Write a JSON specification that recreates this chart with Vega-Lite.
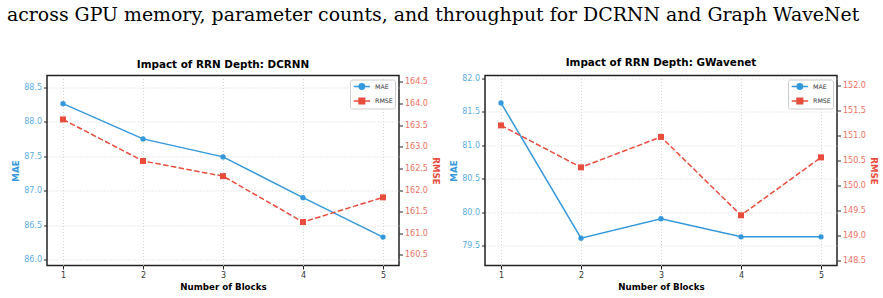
{
  "$schema": "https://vega.github.io/schema/vega-lite/v6.json",
  "padding": {"left": 6, "top": 5.5, "right": 4, "bottom": 2},
  "background": "white",
  "title": {
    "text": "across GPU memory, parameter counts, and throughput for DCRNN and Graph WaveNet",
    "anchor": "start",
    "frame": "bounds",
    "font": "DejaVu Serif",
    "fontSize": 18.9,
    "fontWeight": "normal",
    "color": "#000000",
    "offset": 33,
    "dx": -4
  },
  "datasets": {
    "rows": [
      {"model": "DCRNN", "blocks": 1, "MAE": 88.26, "RMSE": 163.63},
      {"model": "DCRNN", "blocks": 2, "MAE": 87.75, "RMSE": 162.67},
      {"model": "DCRNN", "blocks": 3, "MAE": 87.49, "RMSE": 162.32},
      {"model": "DCRNN", "blocks": 4, "MAE": 86.90, "RMSE": 161.26},
      {"model": "DCRNN", "blocks": 5, "MAE": 86.33, "RMSE": 161.83},
      {"model": "GWavenet", "blocks": 1, "MAE": 81.63, "RMSE": 151.20},
      {"model": "GWavenet", "blocks": 2, "MAE": 79.61, "RMSE": 150.36},
      {"model": "GWavenet", "blocks": 3, "MAE": 79.90, "RMSE": 150.97},
      {"model": "GWavenet", "blocks": 4, "MAE": 79.63, "RMSE": 149.40},
      {"model": "GWavenet", "blocks": 5, "MAE": 79.63, "RMSE": 150.56}
    ]
  },
  "data": {"name": "rows"},
  "spacing": 86,
  "bounds": "flush",
  "resolve": {"scale": {"color": "independent"}, "legend": {"color": "independent"}},
  "hconcat": [
    {
      "title": "Impact of RRN Depth: DCRNN",
      "width": 352,
      "height": 190,
      "transform": [{"filter": "datum.model === 'DCRNN'"}],
      "encoding": {
        "x": {
          "field": "blocks", "type": "quantitative",
          "scale": {"domain": [0.8, 5.2], "nice": false, "zero": false},
          "axis": {"values": [1, 2, 3, 4, 5], "format": "d", "title": "Number of Blocks"}
        }
      },
      "layer": [
        {
          "encoding": {
            "y": {
              "field": "MAE", "type": "quantitative",
              "scale": {"domain": [85.919, 88.667], "nice": false, "zero": false},
              "axis": {"orient": "left", "values": [86, 86.5, 87, 87.5, 88, 88.5], "format": ".1f", "title": "MAE",
                       "labelColor": "#5dade2", "titleColor": "#3498db", "grid": true}
            }
          },
          "layer": [
            {
              "mark": {"type": "line", "strokeWidth": 1.5},
              "encoding": {
                "color": {
                  "datum": "MAE",
                  "scale": {"domain": ["MAE", "RMSE"], "range": ["#3498db", "#e74c3c"]},
                  "legend": {
                    "title": null, "orient": "top-right", "offset": 4,
                    "fillColor": "white", "strokeColor": "#cccccc", "cornerRadius": 2, "padding": 1.5,
                    "labelFontSize": 6.3, "labelColor": "#333333", "labelFont": "DejaVu Sans",
                    "labelExpr": "datum.label + '\u2003'",
                    "symbolSize": 81, "rowPadding": 1.5, "labelOffset": 12.5,
                    "encode": {
                      "symbols": {
                        "update": {
                          "shape": {"signal": "datum.value === 'MAE' ? 'M-0.73,0H2.9M1.68,0A0.6,0.6,0,1,1,0.48,0A0.6,0.6,0,1,1,1.68,0Z' : 'M-0.73,0H0.5M0.95,0H1.25M1.7,0H2.9M0.45,-0.62H1.7V0.62H0.45Z'"},
                          "fill": {"signal": "datum.value === 'MAE' ? '#3498db' : '#e74c3c'"},
                          "stroke": {"signal": "datum.value === 'MAE' ? '#3498db' : '#e74c3c'"},
                          "strokeWidth": {"value": 1.5},
                          "strokeDash": {"value": []},
                          "opacity": {"value": 1},
                          "fillOpacity": {"value": 1}
                        }
                      }
                    }
                  }
                }
              }
            },
            {
              "mark": {"type": "point", "shape": "circle", "filled": true, "size": 28, "opacity": 1, "color": "#3498db"}
            }
          ]
        },
        {
          "encoding": {
            "y": {
              "field": "RMSE", "type": "quantitative",
              "scale": {"domain": [160.256, 164.645], "nice": false, "zero": false},
              "axis": {"orient": "right", "values": [160.5, 161, 161.5, 162, 162.5, 163, 163.5, 164, 164.5], "format": ".1f", "title": "RMSE",
                       "labelColor": "#ec7063", "titleColor": "#e74c3c", "grid": false}
            }
          },
          "layer": [
            {
              "mark": {"type": "line", "strokeWidth": 1.5, "strokeDash": [5.5, 2.4]},
              "encoding": {"color": {"datum": "RMSE"}}
            },
            {
              "mark": {"type": "point", "shape": "square", "filled": true, "size": 36, "opacity": 1, "color": "#e74c3c"}
            }
          ]
        }
      ],
      "resolve": {"scale": {"y": "independent"}}
    },
    {
      "title": "Impact of RRN Depth: GWavenet",
      "width": 352,
      "height": 190,
      "transform": [{"filter": "datum.model === 'GWavenet'"}],
      "encoding": {
        "x": {
          "field": "blocks", "type": "quantitative",
          "scale": {"domain": [0.8, 5.2], "nice": false, "zero": false},
          "axis": {"values": [1, 2, 3, 4, 5], "format": "d", "title": "Number of Blocks"}
        }
      },
      "layer": [
        {
          "encoding": {
            "y": {
              "field": "MAE", "type": "quantitative",
              "scale": {"domain": [79.202, 82.039], "nice": false, "zero": false},
              "axis": {"orient": "left", "values": [79.5, 80, 80.5, 81, 81.5, 82], "format": ".1f", "title": "MAE",
                       "labelColor": "#5dade2", "titleColor": "#3498db", "grid": true}
            }
          },
          "layer": [
            {
              "mark": {"type": "line", "strokeWidth": 1.5},
              "encoding": {
                "color": {
                  "datum": "MAE",
                  "scale": {"domain": ["MAE", "RMSE"], "range": ["#3498db", "#e74c3c"]},
                  "legend": {
                    "title": null, "orient": "top-right", "offset": 4,
                    "fillColor": "white", "strokeColor": "#cccccc", "cornerRadius": 2, "padding": 1.5,
                    "labelFontSize": 6.3, "labelColor": "#333333", "labelFont": "DejaVu Sans",
                    "labelExpr": "datum.label + '\u2003'",
                    "symbolSize": 81, "rowPadding": 1.5, "labelOffset": 12.5,
                    "encode": {
                      "symbols": {
                        "update": {
                          "shape": {"signal": "datum.value === 'MAE' ? 'M-0.73,0H2.9M1.68,0A0.6,0.6,0,1,1,0.48,0A0.6,0.6,0,1,1,1.68,0Z' : 'M-0.73,0H0.5M0.95,0H1.25M1.7,0H2.9M0.45,-0.62H1.7V0.62H0.45Z'"},
                          "fill": {"signal": "datum.value === 'MAE' ? '#3498db' : '#e74c3c'"},
                          "stroke": {"signal": "datum.value === 'MAE' ? '#3498db' : '#e74c3c'"},
                          "strokeWidth": {"value": 1.5},
                          "strokeDash": {"value": []},
                          "opacity": {"value": 1},
                          "fillOpacity": {"value": 1}
                        }
                      }
                    }
                  }
                }
              }
            },
            {
              "mark": {"type": "point", "shape": "circle", "filled": true, "size": 28, "opacity": 1, "color": "#3498db"}
            }
          ]
        },
        {
          "encoding": {
            "y": {
              "field": "RMSE", "type": "quantitative",
              "scale": {"domain": [148.394, 152.2], "nice": false, "zero": false},
              "axis": {"orient": "right", "values": [148.5, 149, 149.5, 150, 150.5, 151, 151.5, 152], "format": ".1f", "title": "RMSE",
                       "labelColor": "#ec7063", "titleColor": "#e74c3c", "grid": false}
            }
          },
          "layer": [
            {
              "mark": {"type": "line", "strokeWidth": 1.5, "strokeDash": [5.5, 2.4]},
              "encoding": {"color": {"datum": "RMSE"}}
            },
            {
              "mark": {"type": "point", "shape": "square", "filled": true, "size": 36, "opacity": 1, "color": "#e74c3c"}
            }
          ]
        }
      ],
      "resolve": {"scale": {"y": "independent"}}
    }
  ],
  "config": {
    "font": "DejaVu Sans",
    "view": {"stroke": "#222222", "strokeWidth": 1.5},
    "title": {"font": "DejaVu Sans", "fontSize": 10.4, "fontWeight": "bold", "color": "#000000", "offset": 5.5},
    "axis": {
      "domain": false,
      "tickColor": "#222222", "tickSize": 3.5, "tickWidth": 1,
      "labelFont": "DejaVu Sans", "labelFontSize": 8, "labelPadding": 2,
      "titleFont": "DejaVu Sans", "titleFontSize": 8.7, "titleFontWeight": "bold", "titlePadding": 3,
      "gridColor": "#cccccc", "gridDash": [1, 2], "gridWidth": 0.8
    },
    "axisX": {"labelColor": "#333333", "labelPadding": 2.5, "titleColor": "#000000", "grid": true}
  }
}
